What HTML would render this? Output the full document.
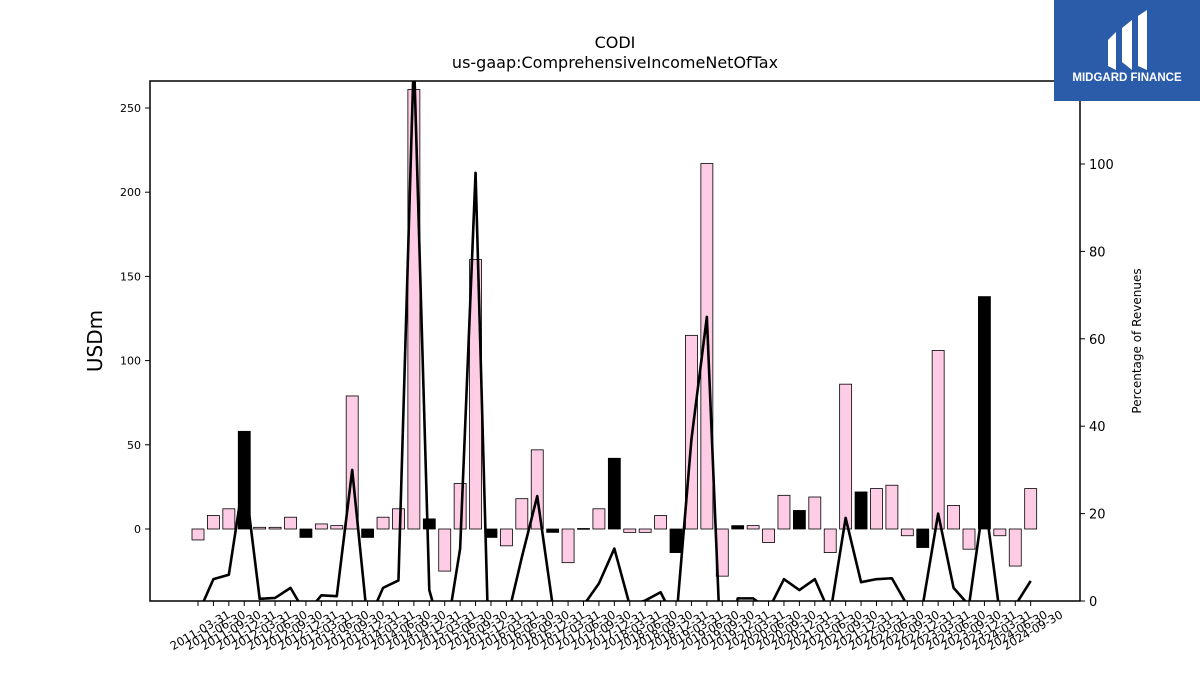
<!DOCTYPE html>
<html><head><meta charset="utf-8"><style>
html,body{margin:0;background:#fff;font-family:"Liberation Sans","DejaVu Sans",sans-serif;width:1200px;height:675px;overflow:hidden}
svg{display:block}
</style></head><body>
<svg id="c" width="1200" height="675" xmlns="http://www.w3.org/2000/svg" font-family="DejaVu Sans, Liberation Sans, sans-serif">
<defs><clipPath id="clip"><rect x="150" y="81" width="930" height="520"/></clipPath></defs>
<text x="615" y="48" text-anchor="middle" font-size="16">CODI</text>
<text x="615" y="68" text-anchor="middle" font-size="16">us-gaap:ComprehensiveIncomeNetOfTax</text>
<g id="bars" clip-path="url(#clip)"></g>
<g id="line" clip-path="url(#clip)"></g>
<rect x="150" y="81" width="930" height="520" fill="none" stroke="#000" stroke-width="1.5"/>
<g id="axes"></g>
<text transform="translate(102,341) rotate(-90)" text-anchor="middle" font-size="20">USDm</text>
<text transform="translate(1141,341) rotate(-90)" text-anchor="middle" font-size="12">Percentage of Revenues</text>
<g>
<rect x="1054" y="0" width="146" height="101" fill="#2a5caa"/>
<path d="M1108 40 L1116 32 L1116 70 L1108 66 Z M1122 28 L1132 20 L1132 70 L1122 62 Z M1138 16 L1147 10 L1147 70 L1138 66 Z" fill="#fff"/>
<text x="1127" y="81" text-anchor="middle" font-size="11.5" font-weight="bold" fill="#fff" font-family="Liberation Sans, sans-serif">MIDGARD FINANCE</text>
</g>
</svg>
<script>
const categories=["2011-03-31","2011-06-30","2011-09-30","2011-12-31","2012-03-31","2012-06-30","2012-09-30","2012-12-31","2013-03-31","2013-06-30","2013-09-30","2013-12-31","2014-03-31","2014-06-30","2014-09-30","2014-12-31","2015-03-31","2015-06-30","2015-09-30","2015-12-31","2016-03-31","2016-06-30","2016-09-30","2016-12-31","2017-03-31","2017-06-30","2017-09-30","2017-12-31","2018-03-31","2018-06-30","2018-09-30","2018-12-31","2019-03-31","2019-06-30","2019-09-30","2019-12-31","2020-03-31","2020-06-30","2020-09-30","2020-12-31","2021-03-31","2021-06-30","2021-09-30","2021-12-31","2022-03-31","2022-06-30","2022-09-30","2022-12-31","2023-03-31","2023-06-30","2023-09-30","2023-12-31","2024-03-31","2024-06-30","2024-09-30"];
const barValues=[-6.5,8,12,58,1,1,7,-5,3,2,79,-5,7,12,261,6,-25,27,160,-5,-10,18,47,-2,-20,0.3,12,42,-2,-2,8,-14,115,217,-28,2,2,-8,20,11,19,-14,86,22,24,26,-4,-11,106,14,-12,138,-4,-22,24];
const pctValues=[-3,5,6,29,0.5,0.7,3,-3,1.3,1.1,30,-5,3,4.7,125,2.5,-10,12,98,-30,-5,10,24,-1,-5,-1,4,12,-1,0.1,2,-5,37,65,-20,0.6,0.6,-2,5,2.5,5,-3,19,4.3,5,5.2,-1,-1,20,3,-1,24,-3,-1,4.6];
const leftTicks=[0,50,100,150,200,250];
const rightTicks=[0,20,40,60,80,100];
const NS="http://www.w3.org/2000/svg";
const x=i=>198+i*15.42;
const y=v=>529-v*1.684;
const y2=v=>601-v*4.37;
function mk(t,a,p){const e=document.createElementNS(NS,t);for(const k in a)e.setAttribute(k,a[k]);(p||document.getElementById('axes')).appendChild(e);return e;}
const bars=document.getElementById('bars');
barValues.forEach((v,i)=>{
  const r=mk('rect',{x:x(i)-6,y:Math.min(y(v),y(0)),width:12,height:Math.max(Math.abs(y(v)-y(0)),0.8),fill:(i%4===3)?'#000':'#ffcce5',stroke:'#000','stroke-width':0.8},bars);
  
  
});
const pl=mk('polyline',{points:pctValues.map((v,i)=>x(i)+','+y2(v)).join(' '),fill:'none',stroke:'#000','stroke-width':2.6,'stroke-linejoin':'round'},document.getElementById('line'));


leftTicks.forEach(t=>{
  mk('line',{x1:145,x2:150,y1:y(t),y2:y(t),stroke:'#000'});
  const tx=mk('text',{x:141,y:y(t)+4,'text-anchor':'end','font-size':11});tx.textContent=t;
  
  
});
rightTicks.forEach(t=>{
  mk('line',{x1:1080,x2:1085,y1:y2(t),y2:y2(t),stroke:'#000'});
  const tx=mk('text',{x:1089,y:y2(t)+5,'font-size':13});tx.textContent=t;
  
  
});
categories.forEach((c,i)=>{
  mk('line',{x1:x(i),x2:x(i),y1:601,y2:606,stroke:'#000'});
  const tx=mk('text',{transform:`translate(${x(i)+33},617) rotate(-30)`,'text-anchor':'end','font-size':11.5});tx.textContent=c;
  
  
});
</script>
</body></html>
